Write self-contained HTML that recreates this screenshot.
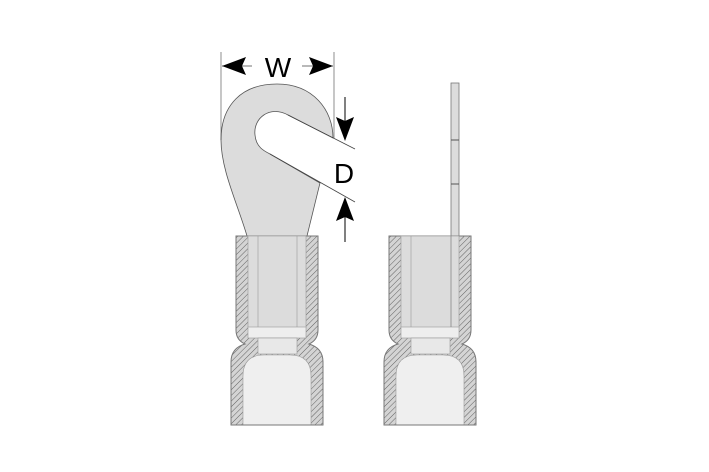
<!DOCTYPE html>
<html><head><style>body{margin:0;background:#fff}svg{display:block}</style></head>
<body>
<svg width="709" height="472" viewBox="0 0 709 472" xmlns="http://www.w3.org/2000/svg">
<defs>
<pattern id="h" width="4" height="4" patternUnits="userSpaceOnUse" patternTransform="rotate(45)">
<rect width="4" height="4" fill="#d4d4d4"/><line x1="0" y1="0" x2="0" y2="4" stroke="#555" stroke-width="0.9"/>
</pattern>
<g id="sl">
<path d="M0,236 H82 V330 Q82,340 73,344 Q87,348 87,362 V425 H-5 V362 Q-5,348 9,344 Q0,340 0,330 Z" fill="url(#h)" stroke="#777" stroke-width="1"/>
<rect x="12" y="236" width="58" height="92" fill="#dcdcdc" stroke="#999" stroke-width="0.6"/>
<rect x="12" y="327" width="58" height="11" fill="#eeeeee" stroke="#999" stroke-width="0.6"/>
<rect x="22" y="338" width="39" height="16" fill="#e8e8e8" stroke="#999" stroke-width="0.6"/>
<path d="M7,425 V376 Q7,355 28,355 H54 Q75,355 75,376 V425 Z" fill="#efefef" stroke="#999" stroke-width="0.6"/>
<line x1="-5" y1="425" x2="87" y2="425" stroke="#777"/>
</g>
</defs>
<!-- left ring terminal -->
<path d="M247,236 C238,205 221,170 221,140 C221,105 242,84 277,84 C313,84 333,110 333,138 L288,115 C270,105 253,118 255,135 C256,147 264,151 270,154 L320,183 L307,236 Z" fill="#dcdcdc" stroke="#555" stroke-width="0.8"/>
<line x1="288" y1="115" x2="355" y2="149" stroke="#444" stroke-width="0.8"/>
<line x1="270" y1="154" x2="355" y2="202" stroke="#444" stroke-width="0.8"/>
<use href="#sl" x="236"/>
<line x1="258" y1="236" x2="258" y2="327" stroke="#999" stroke-width="0.6"/>
<line x1="297" y1="236" x2="297" y2="327" stroke="#999" stroke-width="0.6"/>
<!-- right -->
<rect x="451" y="83" width="8" height="153" fill="#dcdcdc" stroke="#777" stroke-width="0.8"/>
<line x1="451" y1="140" x2="459" y2="140" stroke="#555"/>
<line x1="451" y1="184" x2="459" y2="184" stroke="#555"/>
<use href="#sl" x="389"/>
<line x1="411" y1="236" x2="411" y2="327" stroke="#999" stroke-width="0.6"/>
<line x1="451" y1="236" x2="451" y2="327" stroke="#888" stroke-width="0.8"/>
<!-- W dimension -->
<line x1="221" y1="52" x2="221" y2="140" stroke="#444" stroke-width="0.6"/>
<line x1="334" y1="52" x2="334" y2="138" stroke="#444" stroke-width="0.6"/>
<line x1="222" y1="66" x2="333" y2="66" stroke="#444" stroke-width="0.8"/>
<polygon points="222,66 246,57 242,66 246,75" fill="#000"/>
<polygon points="333,66 309,57 313,66 309,75" fill="#000"/>
<rect x="252" y="52" width="50" height="26" fill="#fff"/>
<text x="278" y="77" font-family="Liberation Sans, sans-serif" font-size="28" text-anchor="middle" fill="#000">W</text>
<!-- D dimension -->
<line x1="345" y1="97" x2="345" y2="138" stroke="#000" stroke-width="1"/>
<polygon points="345,141 336,117 345,121 354,117" fill="#000"/>
<line x1="345" y1="200" x2="345" y2="242" stroke="#000" stroke-width="1"/>
<polygon points="345,197 336,221 345,217 354,221" fill="#000"/>
<text x="344" y="183" font-family="Liberation Sans, sans-serif" font-size="28" text-anchor="middle" fill="#000">D</text>
</svg>
</body></html>
